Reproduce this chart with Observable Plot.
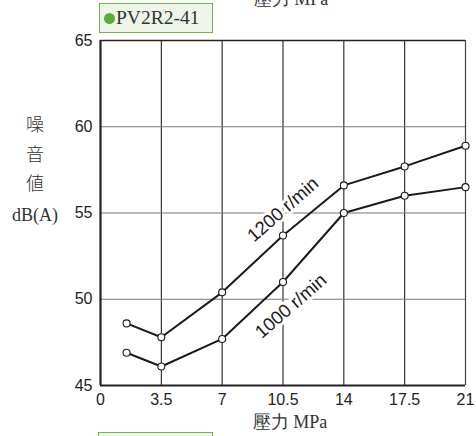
<!DOCTYPE html>
<html>
<head>
<meta charset="utf-8">
<script src="https://cdn.jsdelivr.net/npm/d3@7"></script>
<script src="https://cdn.jsdelivr.net/npm/@observablehq/plot@0.6"></script>
<style>
  html, body { margin: 0; padding: 0; background: #fff; }
  #wrap { position: relative; width: 476px; height: 436px; overflow: hidden; }
  .box { position: absolute; box-sizing: border-box; border: 1.5px solid #6cb844; background: #eef6e9; }
  .boxtxt { font-family: "Liberation Serif", serif; font-size: 19.5px; color: #333; line-height: 27px; padding-left: 4px; white-space: nowrap; }
  .dot { display: inline-block; width: 11px; height: 11px; border-radius: 50%; background: #58b134; margin-right: 1px; vertical-align: 0px; }
</style>
</head>
<body>
<div id="wrap"></div>
<script>
const pressure = [1.5, 3.5, 7, 10.5, 14, 17.5, 21];
const noise1200 = [48.6, 47.8, 50.4, 53.7, 56.6, 57.7, 58.9];
const noise1000 = [46.9, 46.1, 47.7, 51.0, 55.0, 56.0, 56.5];
const xTicks = [0, 3.5, 7, 10.5, 14, 17.5, 21];
const xTickLabels = ["0", "3.5", "7", "10.5", "14", "17.5", "21"];
const yTicks = [45, 50, 55, 60, 65];
const seriesNames = ["1200 r/min", "1000 r/min"];
const modelName = "PV2R2-41";
const xLabel = "壓力 MPa";
const yLabelLines = ["噪", "音", "値", "dB(A)"];

const data = [
  ...pressure.map((p, i) => ({x: p, y: noise1200[i], s: seriesNames[0]})),
  ...pressure.map((p, i) => ({x: p, y: noise1000[i], s: seriesNames[1]}))
];

const sans = "'Liberation Sans', Arial, sans-serif";
const serif = "'Liberation Serif', serif";

const chart = Plot.plot({
  width: 476,
  height: 436,
  marginLeft: 100,
  marginRight: 11,
  marginTop: 40,
  marginBottom: 51,
  style: {fontFamily: sans, fontSize: "16px", color: "#222", background: "#fff"},
  x: {domain: [0, 21]},
  y: {domain: [45, 65]},
  marks: [
    Plot.ruleX(xTicks.slice(1, -1), {stroke: "#222", strokeWidth: 1.1}),
    Plot.ruleY(yTicks.slice(1, -1), {stroke: "#777", strokeWidth: 1.1}),
    Plot.ruleY([65], {stroke: "#222", strokeWidth: 1.4}),
    Plot.ruleX([21], {stroke: "#444", strokeWidth: 1.2}),
    Plot.ruleX([0], {stroke: "#222", strokeWidth: 2.2}),
    Plot.ruleY([45], {stroke: "#222", strokeWidth: 2.2}),
    Plot.axisX(xTicks, {tickSize: 0, tickPadding: 8, tickFormat: (d, i) => xTickLabels[i], label: null, fontSize: 16, fill: "#222"}),
    Plot.axisY(yTicks, {tickSize: 0, tickPadding: 8, label: null, fontSize: 16, fill: "#222"}),
    Plot.text([seriesNames[0]], {x: 10.5, y: 55.2, text: d => d, rotate: -41, fontSize: 18.5, fill: "#1a1a1a", stroke: "#fff", strokeWidth: 6, style: "letter-spacing:0.4px"}),
    Plot.text([seriesNames[1]], {x: 10.95, y: 49.6, text: d => d, rotate: -41, fontSize: 18.5, fill: "#1a1a1a", stroke: "#fff", strokeWidth: 6}),
    Plot.line(data, {x: "x", y: "y", z: "s", stroke: "#1a1a1a", strokeWidth: 2}),
    Plot.dot(data, {x: "x", y: "y", r: 3.5, fill: "#fff", stroke: "#1a1a1a", strokeWidth: 1.1})
  ]
});

const wrap = document.getElementById("wrap");
wrap.appendChild(chart);
const svg = d3.select(chart);

svg.append("text").attr("x", 290).attr("y", 428).attr("text-anchor", "middle")
  .attr("font-family", serif).attr("font-size", 18).attr("fill", "#333").text(xLabel);
svg.append("text").attr("x", 291).attr("y", 5).attr("text-anchor", "middle")
  .attr("font-family", serif).attr("font-size", 18).attr("fill", "#333").text(xLabel);
const yPos = [125, 155, 184, 215];
yLabelLines.forEach((t, i) => {
  svg.append("text").attr("x", 35).attr("y", yPos[i]).attr("dy", "0.35em").attr("text-anchor", "middle")
    .attr("font-family", i < 3 ? "'Noto Sans CJK JP', sans-serif" : serif)
    .attr("font-weight", i < 3 ? 300 : 400)
    .attr("font-size", 18).attr("fill", "#333").text(t);
});

const topBox = document.createElement("div");
topBox.className = "box";
Object.assign(topBox.style, {left: "99px", top: "3px", width: "114px", height: "30px"});
topBox.innerHTML = `<div class="boxtxt"><span class="dot"></span>${modelName}</div>`;
wrap.appendChild(topBox);

const botBox = document.createElement("div");
botBox.className = "box";
Object.assign(botBox.style, {left: "98px", top: "432px", width: "115px", height: "30px"});
wrap.appendChild(botBox);
</script>
</body>
</html>
